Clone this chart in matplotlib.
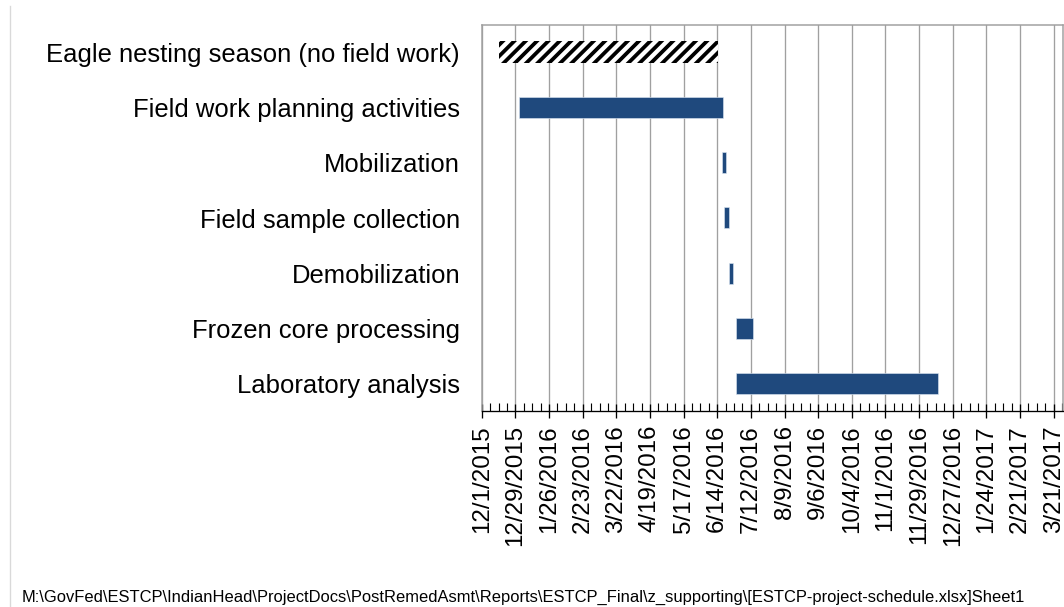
import numpy as np
import matplotlib
matplotlib.use("Agg")
import matplotlib.pyplot as plt
import matplotlib.dates as mdates
from matplotlib.lines import Line2D
import datetime as dt

tasks = ["Eagle nesting season (no field work)",
         "Field work planning activities",
         "Mobilization",
         "Field sample collection",
         "Demobilization",
         "Frozen core processing",
         "Laboratory analysis"]
starts = ["2015-12-15", "2016-01-01", "2016-06-18", "2016-06-20",
          "2016-06-24", "2016-06-30", "2016-06-30"]
ends = ["2016-06-15", "2016-06-19", "2016-06-21", "2016-06-24",
        "2016-06-27", "2016-07-14", "2016-12-15"]
hatched = [True, False, False, False, False, False, False]

axis_start = dt.date(2015, 12, 1)
axis_end = dt.date(2017, 3, 29)
footer = r"M:\GovFed\ESTCP\IndianHead\ProjectDocs\PostRemedAsmt\Reports\ESTCP_Final\z_supporting\[ESTCP-project-schedule.xlsx]Sheet1"

DPI = 136
W, H = 1064, 607
plt.rcParams['font.family'] = ['Liberation Sans', 'DejaVu Sans']
plt.rcParams['hatch.linewidth'] = 2.0
plt.rcParams['hatch.color'] = 'black'

fig = plt.figure(figsize=((W + 0.2) / DPI, (H + 0.2) / DPI), dpi=DPI)
ax = fig.add_axes([481.7 / W, 1 - 411 / H, (1063 - 481.7) / W, (411 - 25) / H])

s = mdates.date2num(np.array(starts, dtype='datetime64[D]'))
e = mdates.date2num(np.array(ends, dtype='datetime64[D]'))
ypos = np.arange(len(tasks))

for i in range(len(tasks)):
    if hatched[i]:
        ax.barh(ypos[i], e[i] - s[i], left=s[i], height=0.4,
                color='white', edgecolor='black', linewidth=0, hatch='////')
    else:
        ax.barh(ypos[i], e[i] - s[i], left=s[i], height=0.38,
                color='#1F497D', edgecolor='#dce6f2', linewidth=0.3, zorder=3)

ax.set_ylim(len(tasks) - 0.5, -0.5)
ax.set_yticks(ypos)
ax.set_yticklabels(tasks, fontsize=13.6)
ax.tick_params(axis='y', length=0, pad=11.5)

ax.set_xlim(mdates.date2num(axis_start), mdates.date2num(axis_end))
major = mdates.drange(axis_start, axis_end, dt.timedelta(days=28))
minor = mdates.drange(axis_start, axis_end, dt.timedelta(days=7))
ax.set_xticks(major)
ax.set_xticks(minor, minor=True)
ax.xaxis.set_major_formatter(mdates.DateFormatter('%-m/%-d/%Y'))
ax.tick_params(axis='x', which='major', direction='inout', length=7.4,
               width=0.7, color='black', labelsize=12.8, pad=3.7,
               labelrotation=90)
ax.tick_params(axis='x', which='minor', direction='in', length=4.0,
               width=0.6, color='black')
ax.grid(axis='x', which='major', color='#a0a0a0', linewidth=0.7)
ax.set_axisbelow(True)

for side in ['left', 'top', 'right']:
    ax.spines[side].set_color('#a0a0a0')
    ax.spines[side].set_linewidth(0.8)
ax.spines['bottom'].set_color('black')
ax.spines['bottom'].set_linewidth(0.7)

fig.add_artist(Line2D([9.5 / W, 9.5 / W], [0, 1 - 6 / H],
                      transform=fig.transFigure, color='#d9d9d9', lw=0.7))
fig.text(22 / W, 1 - 597 / H, footer, fontsize=8.75, va='center', ha='left',
         family=['Liberation Sans Narrow', 'Liberation Sans'])

fig.savefig('out.png', dpi=DPI, facecolor='white')
